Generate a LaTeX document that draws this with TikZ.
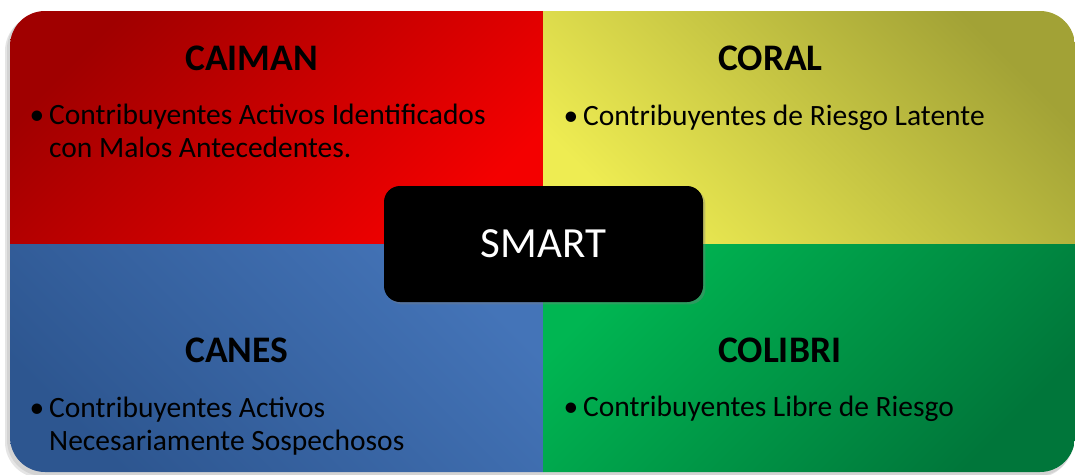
\documentclass[tikz,border=0pt]{standalone}
\usepackage{fontspec}
\setmainfont{Carlito}
\usetikzlibrary{positioning,shadows}

\definecolor{redDark}{HTML}{A00000}
\definecolor{redLight}{HTML}{F40000}
\definecolor{yelDark}{HTML}{A2A236}
\definecolor{yelLight}{HTML}{EEEC52}
\definecolor{bluDark}{HTML}{2D5690}
\definecolor{bluLight}{HTML}{4474B8}
\definecolor{grnDark}{HTML}{00763A}
\definecolor{grnLight}{HTML}{00B652}

\tikzset{
	title/.style={anchor=base west,inner sep=0pt,font=\fontsize{37.5}{44}\selectfont\bfseries},
	item/.style={anchor=base west,inner sep=0pt,align=left,font=\fontsize{29.5}{33}\selectfont},
	smartbox/.style={fill=black,rounded corners=16,minimum width=319,minimum height=116,
		text=white,font=\fontsize{43}{50}\selectfont,drop shadow={opacity=0.35}}
}

\begin{document}
\begin{tikzpicture}[x=1pt,y=-1pt]
	\useasboundingbox (0,0) rectangle (1075,474);

	% shadow of the whole panel
	\fill[black,opacity=0.10,rounded corners=36] (5,15) rectangle (1072,478);
	\fill[black,opacity=0.08,rounded corners=36] (7,13) rectangle (1074,476);

	% the four quarters
	\begin{scope}
		\clip[rounded corners=35] (10,11) rectangle (1075,472);
		\shade[top color=redDark,bottom color=redLight,shading angle=45]   (10,11)   rectangle (543,244);
		\shade[top color=yelDark,bottom color=yelLight,shading angle=-45]  (543,11)  rectangle (1075,244);
		\shade[top color=bluLight,bottom color=bluDark,shading angle=-45]  (10,244)  rectangle (543,472);
		\shade[top color=grnLight,bottom color=grnDark,shading angle=45]   (543,244) rectangle (1075,472);
	\end{scope}

	\node[title] (caiman)  at (185,70)  {CAIMAN};
	\node[title] (coral)   at (718,70)  {CORAL};
	\node[title] (canes)   at (185,362) {CANES};
	\node[title] (colibri) at (718,362) {COLIBRI};

	% base = last line
	\node[item] (caimanTxt)  at (49,157)  {\llap{•\,}Contribuyentes Activos Identificados\\con Malos Antecedentes.};
	\node[item] (coralTxt)   at (583,125) {\llap{•\,}Contribuyentes de Riesgo Latente};
	\node[item] (canesTxt)   at (49,450)  {\llap{•\,}Contribuyentes Activos\\Necesariamente Sospechosos};
	\node[item] (colibriTxt) at (583,416) {\llap{•\,}Contribuyentes Libre de Riesgo};

	\node[smartbox] (smart) at (543.5,244) {SMART};
\end{tikzpicture}
\end{document}
